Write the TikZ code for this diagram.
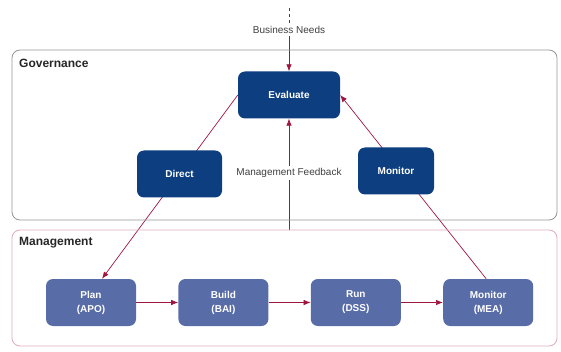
\documentclass[tikz,border=0pt]{standalone}
\usepackage{fontspec}
\setmainfont{Liberation Sans}
\usetikzlibrary{positioning}
\usetikzlibrary{arrows.meta}
\usetikzlibrary{backgrounds}
\definecolor{govblue}{RGB}{12,62,128}
\definecolor{mgmtblue}{RGB}{88,108,168}
\definecolor{flowred}{RGB}{158,22,62}
\definecolor{govline}{RGB}{150,150,150}
\definecolor{mgmtline}{RGB}{222,172,188}
\tikzset{%
  flow/.style = {-{Latex[length=7pt,width=5.5pt]},draw=flowred,line width=0.7pt},
  g/.style = {rectangle,rounded corners=7pt,fill=govblue,text=white,
        font=\fontsize{10}{12}\selectfont\bfseries,minimum height=47pt},
  m/.style = {rectangle,rounded corners=7pt,fill=mgmtblue,text=white,align=center,
        font=\fontsize{10}{14}\selectfont\bfseries,minimum width=90pt,
        minimum height=47pt},
  lbl/.style = {fill=white,text=black!75,inner sep=2pt,
        font=\fontsize{10}{12}\selectfont},
  title/.style = {anchor=west,text=black!85,inner sep=0pt,
        font=\fontsize{12}{14}\selectfont\bfseries}
}

\begin{document}
\begin{tikzpicture}[x=1pt,y=-1pt]
\useasboundingbox (0,0) rectangle (561,352);
% the two areas
\draw[govline,line width=0.8pt,rounded corners=8pt] (12,50) rectangle (557,220);
\draw[mgmtline,line width=0.8pt,rounded corners=8pt] (12,230) rectangle (557,346);
\node[title] (govtitle) at (19,63) {Governance};
\node[title] (mgmttitle) at (19,243) {Management};
% governance
\node[g,minimum width=102pt] (eval) at (289,95) {Evaluate};
\node[g,minimum width=85pt] (direct) at (179.5,174) {Direct};
\node[g,minimum width=76pt] (mon) at (396,171) {Monitor};
% management
\node[m] (plan) at (91,302.5) {Plan\\(APO)};
\node[m,right=42pt of plan] (build) {Build\\(BAI)};
\node[m,right=42pt of build] (run) {Run\\(DSS)};
\node[m,right=42pt of run] (mea) {Monitor\\(MEA)};
% inputs
\coordinate (bntop) at (289,8);
\node[lbl] (bn) at (289,30) {Business Needs};
\coordinate (fb) at (eval.south |- 0,230);
\node[lbl] (fblbl) at (289,173) {Management Feedback};
\begin{pgfonlayer}{background}
\draw[flowred,line width=0.7pt,dashed] (bntop) -- (bn);
\draw[flow] (bn) -- (eval);
\draw[flow] (fb) -- (eval);
\draw[flow] (eval.west) -- ([xshift=11pt]plan.north);
\draw[flow] ([xshift=-2pt]mea.north) -- (eval.east);
\draw[flow] (plan) -- (build);
\draw[flow] (build) -- (run);
\draw[flow] (run) -- (mea);
\end{pgfonlayer}
\end{tikzpicture}
\end{document}
